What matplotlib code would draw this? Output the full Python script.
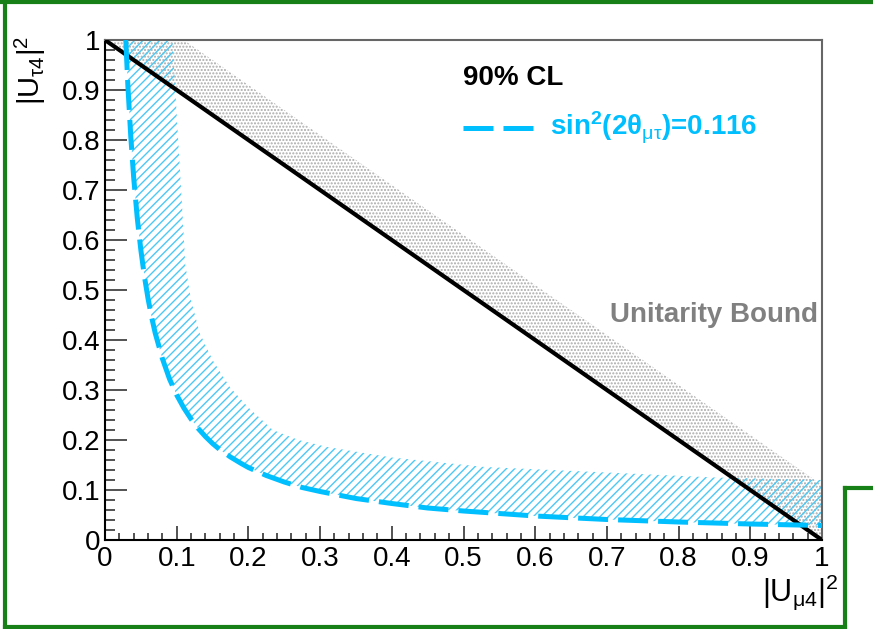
import matplotlib
matplotlib.use('Agg')
import matplotlib.pyplot as plt
from matplotlib.lines import Line2D

plt.rcParams['font.family'] = ['Liberation Sans', 'DejaVu Sans']
plt.rcParams['mathtext.fontset'] = 'custom'
plt.rcParams['mathtext.rm'] = 'Liberation Sans'
plt.rcParams['mathtext.it'] = 'Liberation Sans'
plt.rcParams['mathtext.bf'] = 'Liberation Sans:bold'
plt.rcParams['mathtext.default'] = 'rm'
plt.rcParams['hatch.linewidth'] = 1.0

# sin^2(2theta_mutau) = 0.116 contour
curve_x = [0.029, 0.032, 0.036, 0.040, 0.045, 0.050, 0.055, 0.060, 0.065, 0.070, 0.080,
           0.090, 0.100, 0.110, 0.120, 0.130, 0.140, 0.150, 0.160, 0.175, 0.190,
           0.200, 0.225, 0.250, 0.275, 0.300, 0.350, 0.400, 0.450, 0.500, 0.600,
           0.700, 0.800, 0.900, 1.000]
curve_y = [1.000, 0.906, 0.806, 0.725, 0.644, 0.580, 0.527, 0.483, 0.446, 0.414, 0.363,
           0.322, 0.290, 0.264, 0.242, 0.223, 0.207, 0.193, 0.181, 0.166, 0.153,
           0.145, 0.129, 0.116, 0.105, 0.097, 0.083, 0.073, 0.064, 0.058, 0.048,
           0.041, 0.036, 0.032, 0.029]

# outer edge of the hatched band
band_x = [0.094, 0.100, 0.107, 0.112, 0.120, 0.132, 0.150, 0.174, 0.200, 0.234,
          0.270, 0.310, 0.400, 0.530, 0.700, 0.850, 1.000]
band_y = [1.000, 0.850, 0.680, 0.550, 0.480, 0.414, 0.360, 0.306, 0.265, 0.220,
          0.200, 0.186, 0.165, 0.146, 0.135, 0.125, 0.120]

# unitarity bound
bound_x = [0.0, 1.0]
bound_y = [1.0, 0.0]
gray_x = [0.0, 0.11, 1.0, 1.0]
gray_y = [1.0, 1.0, 0.11, 0.0]

ticks = [0, 0.1, 0.2, 0.3, 0.4, 0.5, 0.6, 0.7, 0.8, 0.9, 1.0]
tick_labels = ['0', '0.1', '0.2', '0.3', '0.4', '0.5', '0.6', '0.7', '0.8', '0.9', '1']

blue = '#00bfff'
W, H = 873, 629

fig = plt.figure(figsize=(W / 100, H / 100), dpi=100)
ax = fig.add_axes([105 / W, 1 - 540 / H, (822 - 105) / W, (540 - 40) / H])

# gray dotted region above the unitarity line
ax.fill(gray_x, gray_y, facecolor='none', edgecolor='#aaaaaa', hatch='.....',
        linewidth=0, zorder=1)

# hatched allowed band
ax.fill(curve_x + band_x[::-1], curve_y + band_y[::-1], facecolor='none',
        edgecolor='#4cc8f5', hatch='////', linewidth=0, zorder=2)

ax.plot(bound_x, bound_y, color='black', linewidth=3, zorder=3)
ax.plot(curve_x, curve_y, color=blue, linewidth=3.6, linestyle=(0, (6, 2)),
        dash_capstyle='butt', zorder=4)

ax.set_xlim(0, 1)
ax.set_ylim(0, 1)
ax.set_xticks(ticks)
ax.set_xticklabels(tick_labels)
ax.set_yticks(ticks)
ax.set_yticklabels(tick_labels)
ax.set_xticks([i * 0.02 for i in range(51)], minor=True)
ax.set_yticks([i * 0.02 for i in range(51)], minor=True)

ax.tick_params(axis='both', which='both', direction='in', colors='#444444',
               labelcolor='black', labelsize=20, width=1.3)
ax.tick_params(axis='y', which='major', length=16, pad=3)
ax.tick_params(axis='y', which='minor', length=7.5)
ax.tick_params(axis='x', which='major', length=10, pad=4)
ax.tick_params(axis='x', which='minor', length=5)

for s in ['left', 'bottom']:
    ax.spines[s].set_color('black')
    ax.spines[s].set_linewidth(1.5)
for s in ['top', 'right']:
    ax.spines[s].set_color('#666666')
    ax.spines[s].set_linewidth(1.5)


def px(x, y):
    return x / W, 1 - y / H


fig.text(*px(463, 78), '90% CL', fontsize=20, fontweight='bold', va='center')
fig.add_artist(Line2D([463 / W, 535 / W], [1 - 128 / H] * 2, color=blue,
                      linewidth=3.6, linestyle=(0, (6, 2)), dash_capstyle='butt',
                      transform=fig.transFigure))
fig.text(*px(550, 128), r'sin$\mathbf{^2}$(2θ$_{\mu\tau}$)=0.116', fontsize=20,
         fontweight='bold', color=blue, va='center')
fig.text(*px(818, 315), 'Unitarity Bound', fontsize=20, fontweight='bold',
         color='#808080', ha='right', va='center')

fig.text(*px(30, 36), r'|U$_{\tau 4}$|$^2$', fontsize=21, rotation=90,
         ha='center', va='top')
fig.text(*px(838, 592), r'|U$_{\mu 4}$|$^2$', fontsize=22, ha='right', va='center')

# green slide frame
green = '#178017'
for xs, ys in [([0, 873], [2, 2]), ([5, 5], [0, 627]), ([5, 845], [627, 627]),
               ([845, 845], [488, 629]), ([845, 873], [488, 488])]:
    fig.add_artist(Line2D([x / W for x in xs], [1 - y / H for y in ys],
                          color=green, linewidth=3, transform=fig.transFigure))

fig.savefig('out.png', dpi=100)
